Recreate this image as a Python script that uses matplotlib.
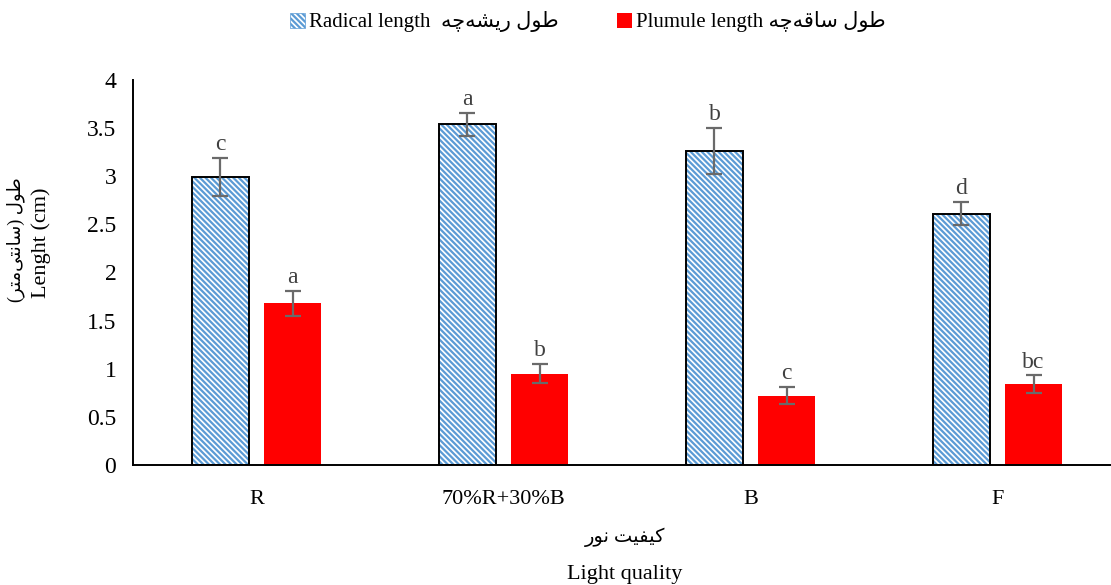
import matplotlib
matplotlib.use('Agg')
import matplotlib.pyplot as plt
from matplotlib.patches import Patch
from matplotlib import font_manager, ft2font
import numpy as np

# 数据
categories = ['R', '70%R+30%B', 'B', 'F']
radical = [2.99, 3.54, 3.26, 2.61]
radical_err = [0.20, 0.12, 0.24, 0.12]
radical_letters = ['c', 'a', 'b', 'd']
plumule = [1.68, 0.95, 0.72, 0.84]
plumule_err = [0.13, 0.10, 0.09, 0.09]
plumule_letters = ['a', 'b', 'c', 'bc']
yticks = [0, 0.5, 1, 1.5, 2, 2.5, 3, 3.5, 4]
ytick_labels = ['0', '0.5', '1', '1.5', '2', '2.5', '3', '3.5', '4']

FAMILY = ['Liberation Serif', 'DejaVu Sans']
plt.rcParams['font.family'] = FAMILY
plt.rcParams['hatch.linewidth'] = 1.6

# 阿拉伯字母连写形式 (isolated, final, initial, medial)
FORMS = {
    'ا': ('\uFE8D', '\uFE8E', None, None),
    'ت': ('\uFE95', '\uFE96', '\uFE97', '\uFE98'),
    'چ': ('\uFB7A', '\uFB7B', '\uFB7C', '\uFB7D'),
    'ر': ('\uFEAD', '\uFEAE', None, None),
    'س': ('\uFEB1', '\uFEB2', '\uFEB3', '\uFEB4'),
    'ش': ('\uFEB5', '\uFEB6', '\uFEB7', '\uFEB8'),
    'ط': ('\uFEC1', '\uFEC2', '\uFEC3', '\uFEC4'),
    'ف': ('\uFED1', '\uFED2', '\uFED3', '\uFED4'),
    'ق': ('\uFED5', '\uFED6', '\uFED7', '\uFED8'),
    'ک': ('\uFB8E', '\uFB8F', '\uFB90', '\uFB91'),
    'ل': ('\uFEDD', '\uFEDE', '\uFEDF', '\uFEE0'),
    'م': ('\uFEE1', '\uFEE2', '\uFEE3', '\uFEE4'),
    'ن': ('\uFEE5', '\uFEE6', '\uFEE7', '\uFEE8'),
    'و': ('\uFEED', '\uFEEE', None, None),
    'ه': ('\uFEE9', '\uFEEA', '\uFEEB', '\uFEEC'),
    'ی': ('\uFBFC', '\uFBFD', '\uFBFE', '\uFBFF'),
}
FALLBACK = {
    'ی': ('\uFEEF', '\uFEF0', '\uFEF3', '\uFEF4'),
    'ک': ('\uFED9', '\uFEDA', '\uFEDB', '\uFEDC'),
}
cmap = ft2font.FT2Font(font_manager.findfont('DejaVu Sans')).get_charmap()
for k, v in FALLBACK.items():
    if any(ord(c) not in cmap for c in FORMS[k] if c):
        FORMS[k] = v


def shape(s):
    out = []
    for i, ch in enumerate(s):
        if ch not in FORMS:
            if ch != '\u200c':
                out.append(ch)
            continue
        prev = s[i - 1] if i > 0 else ''
        nxt = s[i + 1] if i + 1 < len(s) else ''
        jp = prev in FORMS and FORMS[prev][2] is not None
        jn = nxt in FORMS and FORMS[ch][2] is not None
        iso, fin, ini, med = FORMS[ch]
        out.append(med if jp and jn else fin if jp else ini if jn else iso)
    swap = {'(': ')', ')': '('}
    return ''.join(swap.get(c, c) for c in reversed(out))


fig = plt.figure(figsize=(11.11, 5.85), dpi=100)
ax = fig.add_axes([133 / 1111, 1 - 465 / 585, 988 / 1111, 385 / 585])

x = np.arange(len(categories))
w = 0.23
off = 0.146
blue = '#5B9BD5'
hatch = '\\' * 6
err_kw = dict(ecolor='#6a6a6a', elinewidth=1.6, capsize=6, capthick=1.6)

ax.bar(x - off, radical, w, color='white', edgecolor=blue, hatch=hatch, linewidth=0)
ax.bar(x - off, radical, w, fill=False, edgecolor='black', linewidth=1.4,
       yerr=radical_err, error_kw=err_kw)
ax.bar(x + off, plumule, w, color='#FF0000', linewidth=0,
       yerr=plumule_err, error_kw=err_kw)

for xi, v, e, t in zip(x - off, radical, radical_err, radical_letters):
    ax.annotate(t, (xi, v + e), xytext=(0, 2), textcoords='offset points',
                ha='center', va='bottom', fontsize=17, color='#404040')
for xi, v, e, t in zip(x + off, plumule, plumule_err, plumule_letters):
    ax.annotate(t, (xi, v + e), xytext=(0, 2), textcoords='offset points',
                ha='center', va='bottom', fontsize=17, color='#404040')

ax.set_xlim(-0.5, len(categories) - 0.5)
ax.set_ylim(0, 4)
ax.set_yticks(yticks)
ax.set_yticklabels(ytick_labels, fontsize=17)
ax.set_xticks(x)
ax.set_xticklabels(categories, fontsize=16)
ax.tick_params(axis='both', length=0)
ax.tick_params(axis='x', pad=18)
ax.tick_params(axis='y', pad=12)
for s in ['top', 'right']:
    ax.spines[s].set_visible(False)
for s in ['left', 'bottom']:
    ax.spines[s].set_linewidth(1.4)

# 纵轴标题：两行分开放
fig.text(16 / 1111, 1 - 240 / 585, shape('طول (سانتی\u200cمتر)'),
         rotation=90, ha='center', va='center', fontsize=13)
fig.text(41 / 1111, 1 - 243 / 585, 'Lenght (cm)',
         rotation=90, ha='center', va='center', fontsize=16)
fig.text(625 / 1111, 1 - 537 / 585, shape('کیفیت نور'),
         ha='center', va='center', fontsize=14)
fig.text(625 / 1111, 1 - 574 / 585, 'Light quality',
         ha='center', va='center', fontsize=16)

handles = [Patch(facecolor='white', edgecolor=blue, hatch=hatch, linewidth=0.5),
           Patch(facecolor='#FF0000', linewidth=0)]
labels = ['Radical length  ' + shape('طول ریشه\u200cچه'),
          'Plumule length ' + shape('طول ساقه\u200cچه')]
fig.legend(handles, labels, loc='center', bbox_to_anchor=(588 / 1111, 1 - 22 / 585),
           ncol=2, frameon=False, fontsize=15, handlelength=0.7, handleheight=0.7,
           handletextpad=0.2, columnspacing=2.8)

fig.savefig('out.png', dpi=100)
